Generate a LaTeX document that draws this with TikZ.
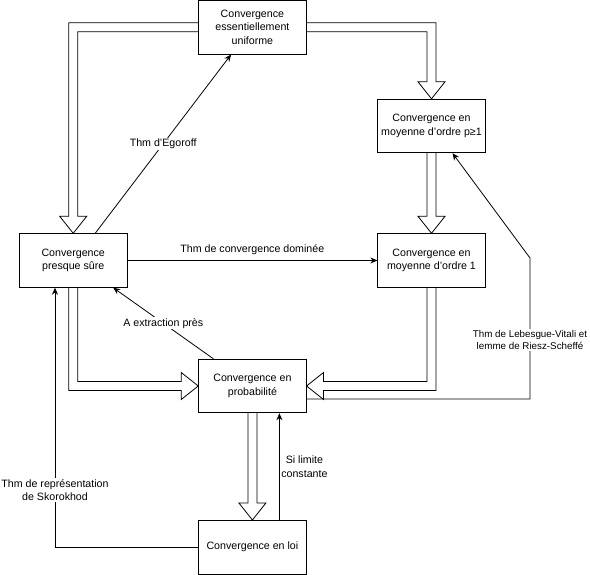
\documentclass[tikz,border=0pt]{standalone}
\usepackage{fontspec}
\setmainfont{Liberation Sans}
\usetikzlibrary{calc,arrows.meta}
\begin{document}
\begin{tikzpicture}[x=1pt,y=-1pt,
        every node/.style={font=\fontsize{10.65}{13.3}\selectfont},
        box/.style={draw,line width=0.8pt,minimum width=107.5pt,minimum height=53.6pt,align=center,inner sep=0pt},
        hollow/.style={draw,line width=0.8pt,line join=miter},
        link/.style={draw,line width=0.8pt,-{Stealth[length=7pt,width=6pt]}},
        lab/.style={fill=white,align=center,inner sep=1pt}]
        \useasboundingbox (0,0) rectangle (590,575);

        \node[box] (eu) at (252.4,27.3) {Convergence\\essentiellement\\uniforme};
        \node[box] (lp) at (431.5,126) {Convergence en\\moyenne d'ordre p≥1};
        \node[box] (ps) at (73.2,260.5) {Convergence\\presque sûre};
        \node[box] (l1) at (431.5,260.5) {Convergence en\\moyenne d'ordre 1};
        \node[box] (pr) at (252.4,386) {Convergence en\\probabilité};
        \node[box] (loi) at (252.4,547.2) {Convergence en loi};
        \coordinate (lvc) at (530,258);

        \draw[hollow] ($(eu.west)+(0,-4.5)$) -| ($(ps.north)+(-4.5,-17)$) -- ++(-9,0) -- (ps.north)
            -- ++(13.5,-17) -- ++(-9,0) |- ($(eu.west)+(0,4.5)$);
        \draw[hollow] ($(eu.east)+(0,-4.5)$) -| ($(lp.north)+(4.5,-17)$) -- ++(9,0) -- (lp.north)
            -- ++(-13.5,-17) -- ++(9,0) |- ($(eu.east)+(0,4.5)$);
        \draw[hollow] ($(lp.south)+(-4.5,0)$) -- ($(l1.north)+(-4.5,-17)$) -- ++(-9,0) -- (l1.north)
            -- ++(13.5,-17) -- ++(-9,0) -- ($(lp.south)+(4.5,0)$);
        \draw[hollow] ($(ps.south)+(-4.5,0)$) |- ($(pr.west)+(-17,4.5)$) -- ++(0,9) -- (pr.west)
            -- ++(-17,-13.5) -- ++(0,9) -| ($(ps.south)+(4.5,0)$);
        \draw[hollow] ($(l1.south)+(4.5,0)$) |- ($(pr.east)+(17,4.5)$) -- ++(0,9) -- (pr.east)
            -- ++(17,-13.5) -- ++(0,9) -| ($(l1.south)+(-4.5,0)$);
        \draw[hollow] ($(pr.south)+(-4.5,0)$) -- ($(loi.north)+(-4.5,-17)$) -- ++(-9,0) -- (loi.north)
            -- ++(13.5,-17) -- ++(-9,0) -- ($(pr.south)+(4.5,0)$);

        \draw[link] ($(ps.north)+(22,0)$) -- node[lab] {Thm d'Egoroff} ($(eu.south)+(-21.3,0)$);
        \draw[link] (ps) -- node[yshift=11pt] {Thm de convergence dominée} (l1);
        \draw[link] ($(pr.north)+(-39,0)$) -- node[lab] {A extraction près} ($(ps.south)+(40,0)$);
        \draw[link] ($(pr.east)+(0,13)$) -| (lvc)
            node[pos=0.71,lab,font=\fontsize{9.8}{12.3}\selectfont] {Thm de Lebesgue-Vitali et\\lemme de Riesz-Scheffé}
            -- ($(lp.south)+(21,0)$);
        \draw[link] ($(loi.north)+(27,0)$) -- node[right,align=center,inner sep=1.5pt] {Si limite\\constante} ($(pr.south)+(27,0)$);
        \draw[link] (loi.west) -| node[pos=0.61,lab] {Thm de représentation\\de Skorokhod} ($(ps.south)+(-18.2,0)$);
    \end{tikzpicture}
\end{document}
